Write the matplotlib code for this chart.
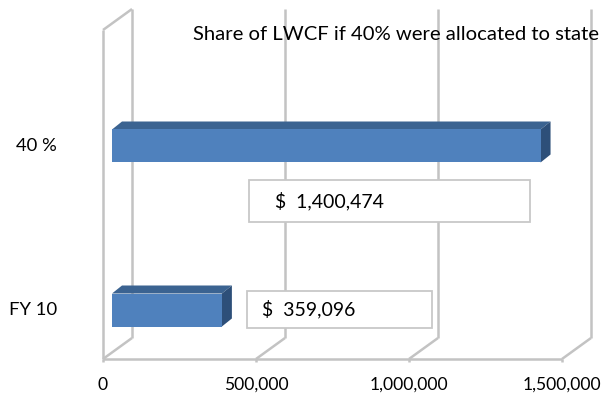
import numpy as np
import matplotlib.pyplot as plt
from matplotlib.patches import Polygon, Rectangle
from matplotlib.transforms import IdentityTransform

categories = ["FY 10", "40 %"]
values = [359096, 1400474]
label_texts = ["$  359,096", "$  1,400,474"]
x_ticks = [0, 500000, 1000000, 1500000]
x_tick_labels = ["0", "500,000", "1,000,000", "1,500,000"]
title = "Share of LWCF if 40% were allocated to state"

W, H = 607, 395
FONT = "Lato"
grid_color = "#c3c3c3"
front_color = "#4f81bd"
top_color = "#3b6391"
side_color = "#2d4f79"

fig = plt.figure(figsize=(W / 100, H / 100), dpi=100)
ax = fig.add_axes([0, 0, 1, 1])
ax.axis("off")

# front plane: 0 -> px 103, 500k every 153 px; categories 164 px apart
px_per_val = 153 / 500000
ax.set_xlim(-103 / px_per_val, (W - 103) / px_per_val)
ax.set_ylim(-85 / 164, (H - 85) / 164)

floor_y = (36 - 85) / 164
top_y = (365 - 85) / 164
wall_dx, wall_dy = 29, 21
bar_shift = 9
bar_dx, bar_dy = 10, 8
bar_h = 33 / 164


def P(v, y):
    return ax.transData.transform((v, y))


def line(p0, p1, **kw):
    ax.plot([p0[0], p1[0]], [p0[1], p1[1]], transform=IdentityTransform(),
            color=grid_color, lw=1.8, solid_capstyle="butt", **kw)


depth = np.array([wall_dx, wall_dy])

# walls / floor gridlines
f0, t0 = P(0, floor_y), P(0, top_y)
line(f0, t0)
line(t0, t0 + depth)
line(f0, P(x_ticks[-1], floor_y))
for v in x_ticks:
    f = P(v, floor_y)
    line(f, f + depth)
    line(f + depth, P(v, top_y) + depth)
    line(f, f - np.array([0, 3]))

# bars
for i, v in enumerate(values):
    fl = P(0, i - bar_h / 2) + np.array([bar_shift, 0])
    tl = P(0, i + bar_h / 2) + np.array([bar_shift, 0])
    fr = P(v, i - bar_h / 2) + np.array([bar_shift, 0])
    tr = P(v, i + bar_h / 2) + np.array([bar_shift, 0])
    d = np.array([bar_dx, bar_dy])
    ax.add_patch(Polygon([tl, tr, tr + d, tl + d], closed=True,
                         transform=IdentityTransform(), facecolor=top_color,
                         edgecolor="none", zorder=3))
    ax.add_patch(Polygon([fr, tr, tr + d, fr + d], closed=True,
                         transform=IdentityTransform(), facecolor=side_color,
                         edgecolor="none", zorder=3))
    ax.add_patch(Polygon([fl, fr, tr, tl], closed=True,
                         transform=IdentityTransform(), facecolor=front_color,
                         edgecolor="none", zorder=4))

# data label boxes (moved by hand in the original)
boxes = [
    (247, 432, 291, 328, 262),
    (249, 530, 180, 222, 275),
]
inv = ax.transData.inverted()
for (x0, x1, y0, y1, tx), txt in zip(boxes, label_texts):
    a = inv.transform((x0, H - y1))
    b = inv.transform((x1, H - y0))
    ax.add_patch(Rectangle(a, b[0] - a[0], b[1] - a[1], facecolor="white",
                           edgecolor="#c8c8c8", lw=1.3, zorder=5))
    ax.text(inv.transform((tx, 0))[0], (a[1] + b[1]) / 2, txt, fontsize=14,
            family=FONT, ha="left", va="center", zorder=6)

# axis labels
for v, lab in zip(x_ticks, x_tick_labels):
    ax.text(v, inv.transform((0, 10))[1], lab, ha="center", va="center",
            fontsize=12.6, family=FONT)
for i, lab in enumerate(categories):
    ax.text(inv.transform((57, 0))[0], i, lab, ha="right", va="center",
            fontsize=13.3, family=FONT)

fig.text(193 / W, 360 / H, title, ha="left", va="center", fontsize=14.6,
         family=FONT)

fig.savefig("out.png", dpi=100)
